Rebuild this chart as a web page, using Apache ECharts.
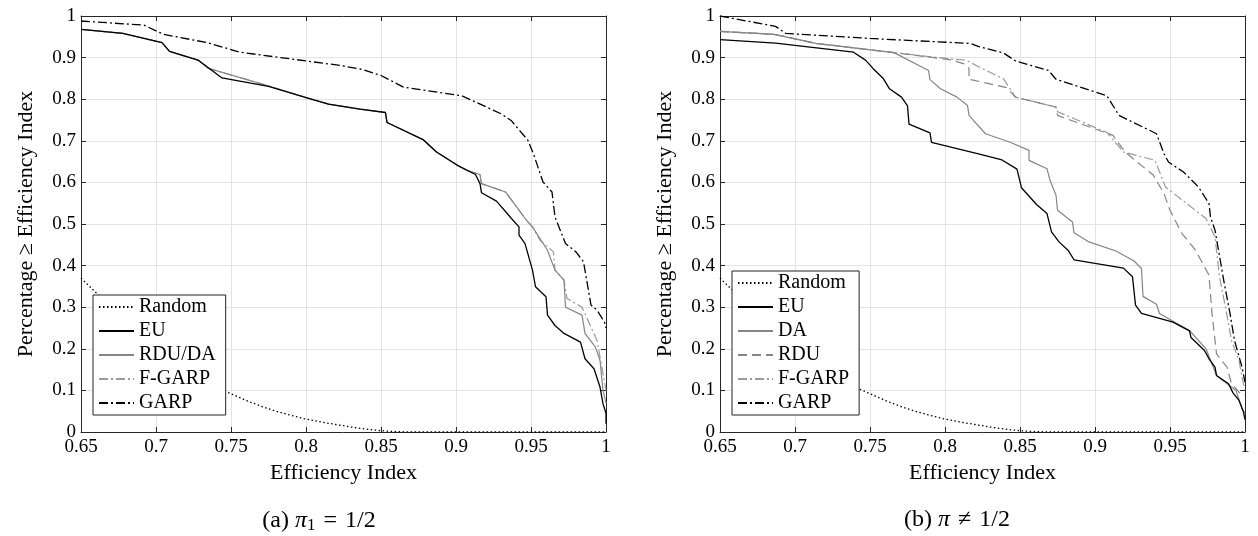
<!DOCTYPE html>
<html>
<head>
<meta charset="utf-8">
<script src="https://cdn.jsdelivr.net/npm/echarts@6/dist/echarts.min.js"></script>
<style>
html,body{margin:0;padding:0;background:#fff;}
#chart{width:1258px;height:536px;}
</style>
</head>
<body>
<div id="chart"></div>
<script>
// ---------- data ----------
const xTicks = [0.65, 0.7, 0.75, 0.8, 0.85, 0.9, 0.95, 1];
const yTicks = [0, 0.1, 0.2, 0.3, 0.4, 0.5, 0.6, 0.7, 0.8, 0.9, 1];

const randomCurve = [[0.65,0.37],[0.66,0.335],[0.67,0.295],[0.68,0.26],[0.69,0.228],[0.70,0.198],[0.71,0.17],[0.72,0.147],[0.73,0.126],[0.74,0.108],[0.75,0.092],[0.76,0.076],[0.77,0.062],[0.78,0.05],[0.79,0.04],[0.80,0.031],[0.81,0.024],[0.82,0.018],[0.83,0.012],[0.84,0.007],[0.85,0.003],[0.86,0.001],[0.87,0],[1.0,0]];

// panel (a)
const leftEU = [[0.65,0.968],[0.678,0.958],[0.704,0.936],[0.709,0.915],[0.728,0.894],[0.744,0.851],[0.775,0.831],[0.800,0.804],[0.815,0.788],[0.836,0.776],[0.853,0.768],[0.854,0.744],[0.878,0.703],[0.887,0.673],[0.902,0.639],[0.913,0.619],[0.916,0.597],[0.917,0.575],[0.927,0.555],[0.938,0.509],[0.942,0.493],[0.942,0.473],[0.946,0.453],[0.951,0.389],[0.953,0.349],[0.960,0.325],[0.961,0.281],[0.966,0.256],[0.972,0.237],[0.983,0.216],[0.986,0.176],[0.992,0.152],[0.996,0.108],[0.998,0.068],[1.0,0.045],[1.0,0.02]];
const leftRDUDA = [[0.65,0.968],[0.678,0.958],[0.704,0.936],[0.709,0.915],[0.728,0.894],[0.735,0.874],[0.774,0.833],[0.800,0.804],[0.815,0.788],[0.836,0.776],[0.853,0.768],[0.854,0.744],[0.878,0.703],[0.887,0.673],[0.902,0.639],[0.907,0.629],[0.916,0.619],[0.917,0.597],[0.933,0.577],[0.947,0.509],[0.951,0.493],[0.961,0.437],[0.966,0.389],[0.972,0.365],[0.973,0.300],[0.984,0.281],[0.986,0.237],[0.993,0.204],[0.996,0.172],[0.998,0.100],[1.0,0.07]];
const leftFGARP = [[0.65,0.968],[0.678,0.958],[0.704,0.936],[0.709,0.915],[0.728,0.894],[0.735,0.874],[0.774,0.833],[0.800,0.804],[0.815,0.788],[0.836,0.776],[0.853,0.768],[0.854,0.744],[0.878,0.703],[0.887,0.673],[0.902,0.639],[0.907,0.629],[0.916,0.619],[0.917,0.597],[0.933,0.577],[0.947,0.509],[0.951,0.493],[0.956,0.461],[0.965,0.433],[0.966,0.389],[0.972,0.365],[0.974,0.321],[0.984,0.300],[0.988,0.268],[0.994,0.220],[0.998,0.141],[1.0,0.10]];
const leftGARP = [[0.65,0.988],[0.692,0.978],[0.705,0.956],[0.734,0.936],[0.756,0.913],[0.823,0.881],[0.837,0.872],[0.850,0.857],[0.865,0.829],[0.904,0.808],[0.930,0.765],[0.937,0.748],[0.948,0.701],[0.952,0.665],[0.958,0.601],[0.964,0.577],[0.966,0.517],[0.973,0.453],[0.980,0.433],[0.985,0.409],[0.990,0.305],[0.994,0.293],[0.999,0.264],[1.0,0.25]];

// panel (b)
const rightEU = [[0.65,0.943],[0.687,0.935],[0.739,0.913],[0.747,0.894],[0.752,0.874],[0.759,0.849],[0.763,0.825],[0.771,0.805],[0.775,0.784],[0.776,0.740],[0.790,0.719],[0.791,0.696],[0.823,0.668],[0.838,0.654],[0.848,0.632],[0.851,0.587],[0.861,0.547],[0.868,0.525],[0.871,0.481],[0.876,0.457],[0.882,0.437],[0.886,0.414],[0.919,0.394],[0.925,0.373],[0.927,0.305],[0.931,0.285],[0.952,0.264],[0.963,0.243],[0.964,0.227],[0.973,0.196],[0.976,0.176],[0.980,0.156],[0.981,0.136],[0.989,0.116],[0.992,0.094],[0.996,0.076],[0.999,0.048],[1.0,0.03]];
const rightDA = [[0.65,0.963],[0.686,0.956],[0.714,0.934],[0.766,0.912],[0.789,0.869],[0.790,0.847],[0.797,0.825],[0.808,0.805],[0.815,0.785],[0.816,0.761],[0.820,0.745],[0.827,0.717],[0.843,0.697],[0.856,0.677],[0.856,0.653],[0.868,0.633],[0.870,0.605],[0.874,0.569],[0.875,0.533],[0.885,0.505],[0.886,0.479],[0.896,0.457],[0.914,0.435],[0.926,0.411],[0.931,0.393],[0.932,0.326],[0.941,0.307],[0.943,0.285],[0.952,0.266],[0.963,0.244],[0.974,0.200],[0.981,0.136],[0.994,0.100],[0.998,0.056],[1.0,0.045]];
const rightRDU = [[0.65,0.963],[0.686,0.956],[0.714,0.934],[0.766,0.912],[0.803,0.895],[0.813,0.885],[0.816,0.874],[0.816,0.848],[0.841,0.828],[0.847,0.805],[0.874,0.781],[0.875,0.761],[0.912,0.713],[0.920,0.673],[0.939,0.617],[0.946,0.573],[0.950,0.533],[0.958,0.477],[0.967,0.437],[0.976,0.377],[0.978,0.285],[0.981,0.188],[0.988,0.156],[0.991,0.116],[0.997,0.092],[1.0,0.09]];
const rightFGARP = [[0.65,0.963],[0.686,0.956],[0.714,0.934],[0.766,0.912],[0.803,0.897],[0.814,0.894],[0.823,0.877],[0.839,0.849],[0.847,0.805],[0.874,0.781],[0.875,0.770],[0.908,0.720],[0.919,0.673],[0.940,0.653],[0.947,0.589],[0.974,0.513],[0.980,0.469],[0.983,0.373],[0.987,0.300],[0.991,0.220],[0.996,0.172],[0.998,0.132],[1.0,0.10]];
const rightGARP = [[0.65,1.0],[0.687,0.975],[0.694,0.958],[0.75,0.946],[0.817,0.934],[0.823,0.926],[0.839,0.911],[0.847,0.892],[0.869,0.869],[0.874,0.848],[0.908,0.808],[0.916,0.761],[0.941,0.717],[0.946,0.669],[0.949,0.649],[0.959,0.625],[0.969,0.589],[0.976,0.549],[0.977,0.517],[0.980,0.485],[0.986,0.361],[0.990,0.285],[0.993,0.220],[0.998,0.156],[1.0,0.12]];

const legendA = ['Random','EU','RDU/DA','F-GARP','GARP'];
const legendB = ['Random','EU','DA','RDU','F-GARP','GARP'];
const xTitle = 'Efficiency Index';
const yTitle = 'Percentage \u2265 Efficiency Index';

// ---------- styles ----------
const FONT = '"Liberation Serif", "DejaVu Serif", serif';
const AX = '#262626';
const GRIDC = '#e3e3e3';
const GRAY = '#858585';
const styles = {
  'Random': {color:'#000', width:1.3, type:[1.5,2.5]},
  'EU': {color:'#000', width:1.3, type:'solid'},
  'RDU/DA': {color:GRAY, width:1.2, type:'solid'},
  'DA': {color:GRAY, width:1.2, type:'solid'},
  'RDU': {color:GRAY, width:1.2, type:[9,5]},
  'F-GARP': {color:'#9a9a9a', width:1.2, type:[9,3,2,3]},
  'GARP': {color:'#000', width:1.3, type:[9,3,2,3]}
};

const grids = [
  {left:81, top:16, width:525, height:416},
  {left:720, top:16, width:525, height:416}
];

function mkX(gi, pos) {
  const main = pos === 'bottom';
  return {
    type:'value', gridIndex:gi, position:pos,
    min:xTicks[0], max:xTicks[xTicks.length-1], interval:0.05,
    axisLine:{show:true, onZero:false, lineStyle:{color:AX, width:1}},
    axisTick:{show:true, inside:true, length:5, lineStyle:{color:AX}},
    axisLabel:{show:main, color:'#000', fontFamily:FONT, fontSize:19, margin:6},
    splitLine:{show:main, lineStyle:{color:GRIDC, width:1}},
    name: main ? xTitle : '', nameLocation:'middle', nameGap:28,
    nameTextStyle:{color:'#000', fontFamily:FONT, fontSize:22}
  };
}
function mkY(gi, pos) {
  const main = pos === 'left';
  return {
    type:'value', gridIndex:gi, position:pos,
    min:yTicks[0], max:yTicks[yTicks.length-1], interval:0.1,
    axisLine:{show:true, onZero:false, lineStyle:{color:AX, width:1}},
    axisTick:{show:true, inside:true, length:5, lineStyle:{color:AX}},
    axisLabel:{show:main, color:'#000', fontFamily:FONT, fontSize:19, margin:5},
    splitLine:{show:main, lineStyle:{color:GRIDC, width:1}},
    name: main ? yTitle : '', nameLocation:'middle', nameGap:44, nameRotate:90,
    nameTextStyle:{color:'#000', fontFamily:FONT, fontSize:22}
  };
}

function mkSeries(name, data, gi, z) {
  const s = styles[name];
  return {
    type:'line', name:name, data:data, xAxisIndex:gi*2, yAxisIndex:gi*2,
    symbol:'none', showSymbol:false, animation:false, z:z,
    lineStyle:{color:s.color, width:s.width, type:s.type},
    itemStyle:{color:s.color}
  };
}

function mkLegend(data, left, top) {
  return {
    show:true, data:data, orient:'vertical', left:left, top:top,
    itemWidth:35, itemHeight:14, itemGap:4,
    backgroundColor:'#fff', borderColor:'#222', borderWidth:1,
    padding:[2,10,2,5], selectedMode:false,
    itemStyle:{opacity:0},
    textStyle:{color:'#000', fontFamily:FONT, fontSize:20, lineHeight:20},
    z:10
  };
}

const chart = echarts.init(document.getElementById('chart'), null, {renderer:'canvas'});
chart.setOption({
  backgroundColor:'#fff',
  animation:false,
  title:[
    {text:'(a) {it|\u03c0}{sub|1}\u2004=\u20041/2', left:314, top:503, textAlign:'center',
     textStyle:{color:'#000', fontFamily:FONT, fontSize:24, fontWeight:'normal',
       rich:{it:{fontFamily:FONT, fontSize:24, fontStyle:'italic', color:'#000'},
             sub:{fontFamily:FONT, fontSize:17, color:'#000', padding:[9,0,0,0]}}}},
    {text:'(b) {it|\u03c0}\u2004\u2260\u20041/2', left:952, top:503, textAlign:'center',
     textStyle:{color:'#000', fontFamily:FONT, fontSize:24, fontWeight:'normal',
       rich:{it:{fontFamily:FONT, fontSize:24, fontStyle:'italic', color:'#000'}}}}
  ],
  grid:grids,
  xAxis:[mkX(0,'bottom'), mkX(0,'top'), mkX(1,'bottom'), mkX(1,'top')],
  yAxis:[mkY(0,'left'), mkY(0,'right'), mkY(1,'left'), mkY(1,'right')],
  legend:[mkLegend(legendA, 93, 295), mkLegend(legendB, 732, 271)],
  series:[
    mkSeries('Random', randomCurve, 0, 2),
    mkSeries('F-GARP', leftFGARP, 0, 3),
    mkSeries('RDU/DA', leftRDUDA, 0, 4),
    mkSeries('EU', leftEU, 0, 5),
    mkSeries('GARP', leftGARP, 0, 6),
    mkSeries('Random', randomCurve, 1, 2),
    mkSeries('F-GARP', rightFGARP, 1, 3),
    mkSeries('RDU', rightRDU, 1, 3),
    mkSeries('DA', rightDA, 1, 4),
    mkSeries('EU', rightEU, 1, 5),
    mkSeries('GARP', rightGARP, 1, 6)
  ]
});
</script>
</body>
</html>
